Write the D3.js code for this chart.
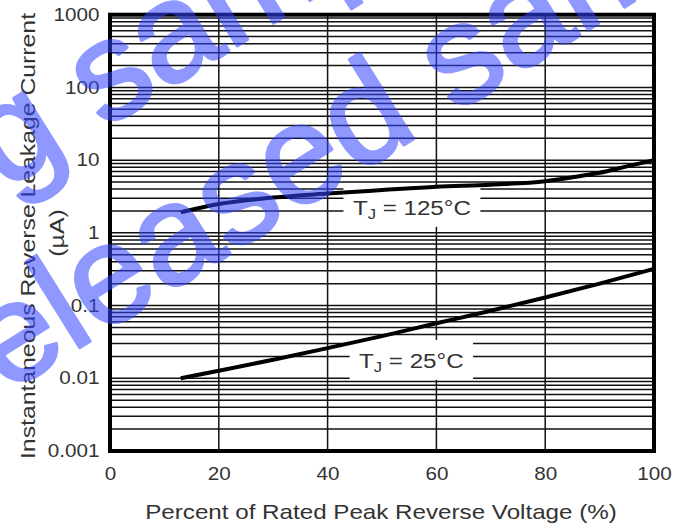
<!DOCTYPE html>
<html>
<head>
<meta charset="utf-8">
<script src="https://cdn.jsdelivr.net/npm/d3@7"></script>
<style>
  html, body { margin: 0; padding: 0; background: #fff; }
  svg { display: block; }
  text { font-family: "Liberation Sans", Arial, Helvetica, sans-serif; white-space: pre; }
</style>
</head>
<body>
<svg id="chart" width="691" height="528"></svg>
<script>
// Percent of rated peak reverse voltage (x) against reverse leakage current in µA (y)
const xTickValues = [0, 20, 40, 60, 80, 100];
const yTickValues = [0.001, 0.01, 0.1, 1, 10, 100, 1000];
const yTickLabels = ["0.001", "0.01", "0.1", "1", "10", "100", "1000"];

// TJ = 125 °C
const voltage125 = [13, 20, 30, 40, 50, 60, 70, 80, 85, 90, 95, 100];
const current125 = [1.92, 2.49, 3.06, 3.47, 3.87, 4.3, 4.6, 5.13, 5.8, 6.7, 8.2, 10];

// TJ = 25 °C
const voltage25 = [13, 20, 30, 40, 50, 60, 70, 80, 90, 100];
const current25 = [0.0100, 0.0127, 0.018, 0.026, 0.038, 0.057, 0.085, 0.129, 0.2, 0.32];

// curve labels, anchored in data units (centre of the text, baseline)
const labelTemps = ["125°C", "25°C"];
const labelVoltage = [55.5, 55.4];
const labelCurrent = [1.77, 0.0139];

const xTitle = "Percent of Rated Peak Reverse Voltage (%)";
const yTitleLines = ["Instantaneous Reverse Leakage Current", "(µA)"];
const watermarkLines = ["Engineering sample", "Not released sample"];

// ---------------------------------------------------------------------------
const svg = d3.select("#chart");
const FONT = '"Liberation Sans", Arial, Helvetica, sans-serif';
const SX = 1.18;            // lettering is set slightly wide
const TEXT = "#333";

const frame = { left: 110, right: 654, top: 14.7, bottom: 451 };
const x = d3.scaleLinear().domain([0, 100]).range([frame.left, frame.right]);
const y = d3.scaleLog().domain([0.001, 1000]).range([frame.bottom, frame.top]);

// log grid: 1..9 in every decade
const gridValues = [];
for (let e = -3; e < 3; e++) for (let k = 1; k < 10; k++) gridValues.push(k * Math.pow(10, e));
const innerGrid = gridValues.filter(v => y(v) < frame.bottom - 1 && y(v) > frame.top + 1);

const grid = svg.append("g").attr("stroke", "#111").attr("stroke-width", 1.5);
grid.selectAll("line.h").data(innerGrid).join("line").attr("class", "h")
  .attr("x1", frame.left).attr("x2", frame.right)
  .attr("y1", d => y(d)).attr("y2", d => y(d));
grid.selectAll("line.v").data(xTickValues.slice(1, -1)).join("line").attr("class", "v")
  .attr("x1", d => x(d)).attr("x2", d => x(d))
  .attr("y1", frame.top).attr("y2", frame.bottom);

// curve labels with a white plate under them
const labels = svg.append("g");
labelTemps.forEach((t, i) => {
  const g = labels.append("g")
    .attr("transform", `translate(${x(labelVoltage[i])},${y(labelCurrent[i])}) scale(${SX},1)`);
  const plate = g.append("rect").attr("fill", "#fff");
  const txt = g.append("text").attr("text-anchor", "middle")
    .attr("font-size", 20.5).attr("fill", TEXT).attr("font-family", FONT);
  txt.append("tspan").text("T");
  txt.append("tspan").attr("font-size", 14).attr("dy", 4).text("J");
  txt.append("tspan").attr("dy", -4).text(" = " + t);
  const bb = txt.node().getBBox();
  plate.attr("x", bb.x - 8).attr("width", bb.width + 16)
    .attr("y", -28).attr("height", 40);
});

// curves
const line = d3.line().x(d => x(d[0])).y(d => y(d[1])).curve(d3.curveMonotoneX);
const curves = [
  d3.zip(voltage125, current125),
  d3.zip(voltage25, current25)
];
svg.append("g").selectAll("path").data(curves).join("path")
  .attr("d", line).attr("fill", "none").attr("stroke", "#000")
  .attr("stroke-width", 4).attr("stroke-linecap", "butt");

// frame
svg.append("rect")
  .attr("x", frame.left).attr("y", frame.top)
  .attr("width", frame.right - frame.left).attr("height", frame.bottom - frame.top)
  .attr("fill", "none").attr("stroke", "#000").attr("stroke-width", 4);

// axes
const gy = svg.append("g").attr("transform", `translate(${frame.left},0)`)
  .call(d3.axisLeft(y).tickValues(yTickValues).tickFormat((d, i) => yTickLabels[i]).tickSize(0).tickPadding(0))
  .attr("font-family", FONT).attr("font-size", 17.5);
gy.select(".domain").remove();
gy.selectAll("text").attr("x", 0).attr("fill", TEXT)
  .attr("transform", `translate(-10.5,0) scale(${SX},1)`);

const gx = svg.append("g").attr("transform", `translate(0,${frame.bottom})`)
  .call(d3.axisBottom(x).tickValues(xTickValues).tickSize(0).tickPadding(17))
  .attr("font-family", FONT).attr("font-size", 17.5);
gx.select(".domain").remove();
gx.selectAll("text").attr("fill", TEXT).attr("transform", `scale(${SX},1)`)
  .attr("x", 0);

// titles
svg.append("g").attr("transform", `translate(381,519) scale(${SX},1)`)
  .append("text").attr("text-anchor", "middle").attr("font-size", 20.5)
  .attr("fill", TEXT).attr("font-family", FONT).text(xTitle);

const yTitlePos = [[35, 236], [63.5, 233]];
yTitleLines.forEach((s, i) => {
  svg.append("g")
    .attr("transform", `translate(${yTitlePos[i][0]},${yTitlePos[i][1]}) rotate(-90) scale(${SX},1)`)
    .append("text").attr("text-anchor", "middle").attr("font-size", 21)
    .attr("fill", TEXT).attr("font-family", FONT).text(s);
});

// watermark: two rotated lines of translucent blue lettering
const wmSize = 140, wmAngle = -32;
const wmAnchor = [ { ch: 12, cx: 114, cy: 80 }, { ch: 13, cx: 465, cy: 64 } ];
const wm = svg.append("g").attr("opacity", 0.55)
  .attr("fill", "#3344ff").attr("stroke", "#3344ff").attr("stroke-width", 3)
  .attr("stroke-linejoin", "round");
watermarkLines.forEach((s, i) => {
  const g = wm.append("g");
  const t = g.append("text").attr("font-size", wmSize).attr("font-family", FONT).text(s);
  const ext = t.node().getExtentOfChar(wmAnchor[i].ch);
  const charCx = ext.x + ext.width / 2;
  g.attr("transform",
    `translate(${wmAnchor[i].cx},${wmAnchor[i].cy}) rotate(${wmAngle}) translate(${-charCx},${0.26 * wmSize})`);
});
</script>
</body>
</html>
